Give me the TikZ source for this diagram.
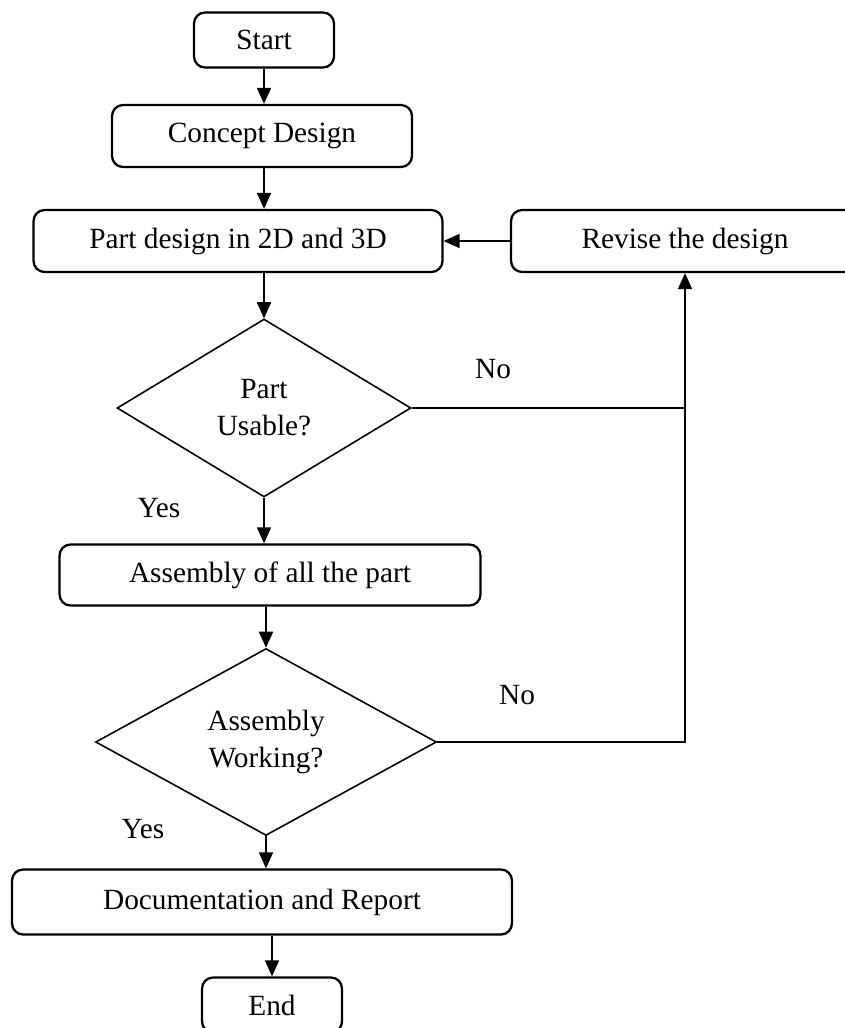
\documentclass[tikz,border=0pt]{standalone}
\usepackage{fontspec}
\setmainfont{Liberation Serif}
\usetikzlibrary{shapes.geometric, arrows.meta}

\begin{document}
\begin{tikzpicture}[x=0.02cm, y=-0.02cm,
  every node/.style={font=\fontsize{16.7}{21}\selectfont},
  box/.style={draw, rounded corners=0.22cm, line width=1.3pt, inner sep=0pt},
  decision/.style={draw, diamond, line width=0.9pt, align=center, inner sep=0pt},
  flow/.style={-{Triangle[length=0.32cm, width=0.28cm]}, line width=1pt}]
\useasboundingbox (0,0) rectangle (845,1028);

\node[box, minimum width=2.8cm, minimum height=1.1cm] (start) at (264,40) {Start};
\node[box, minimum width=6cm, minimum height=1.24cm] (concept) at (262,136) {Concept Design};
\node[box, minimum width=8.18cm, minimum height=1.24cm] (part) at (238,241) {Part design in 2D and 3D};
\node[box, minimum width=6.96cm, minimum height=1.24cm] (revise) at (685,241) {Revise the design};

\node[decision, minimum width=5.88cm, minimum height=3.56cm] (d1) at (264,408) {Part\\Usable?};
\node[box, minimum width=8.42cm, minimum height=1.22cm] (asm) at (270,575) {Assembly of all the part};
\node[decision, minimum width=6.82cm, minimum height=3.74cm] (d2) at (266,742) {Assembly\\Working?};
\node[box, minimum width=10cm, minimum height=1.3cm] (doc) at (262,902) {Documentation and Report};
\node[box, minimum width=2.8cm, minimum height=1.1cm] (end) at (272,1005) {End};

% answers
\node (no1) at (493,369) {No};
\node (yes1) at (159,508) {Yes};
\node (no2) at (517,695) {No};
\node (yes2) at (143,829) {Yes};

\draw[flow] (start.south) -- (start.south |- concept.north);
\draw[flow] (concept.south -| d1) -- (part.north -| d1);
\draw[flow] (part.south -| d1) -- (d1.north);
\draw[flow] (d1.south) -- (asm.north -| d1);
\draw[flow] (asm.south -| d2) -- (d2.north);
\draw[flow] (d2.south) -- (doc.north -| d2);
\draw[flow] (doc.south -| end) -- (end.north);

\draw[line width=1pt] (d1.east) -- (d1.east -| revise);
\draw[flow] (d2.east) -| (revise.south);
\draw[flow] (revise.west) -- (part.east);
\end{tikzpicture}
\end{document}
